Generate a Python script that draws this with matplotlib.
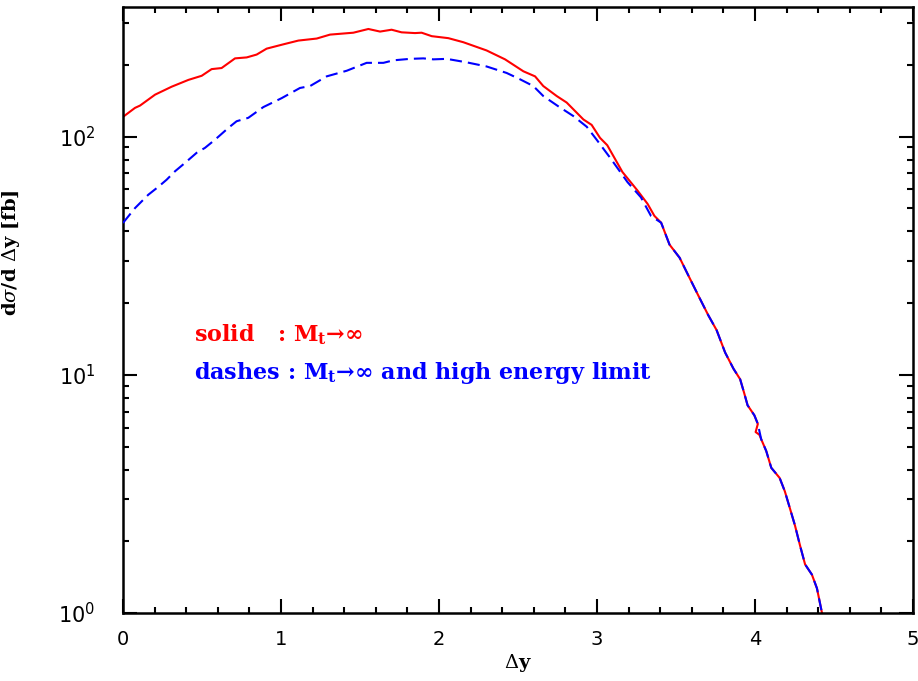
import matplotlib
matplotlib.use("Agg")
import matplotlib.pyplot as plt
from matplotlib.ticker import LogLocator, MultipleLocator, NullFormatter

# ---- data ----
red_x = [0.0, 0.076, 0.108, 0.203, 0.308, 0.414, 0.498, 0.561, 0.624, 0.709,
         0.783, 0.846, 0.909, 1.015, 1.110, 1.226, 1.310, 1.458, 1.553, 1.627,
         1.700, 1.763, 1.848, 1.890, 1.954, 2.059, 2.154, 2.301, 2.418, 2.534,
         2.608, 2.660, 2.745, 2.808, 2.914, 2.966, 3.019, 3.065, 3.161, 3.256,
         3.320, 3.363, 3.406, 3.459, 3.523, 3.576, 3.640, 3.704, 3.757, 3.811,
         3.864, 3.906, 3.932, 3.953, 3.996, 4.018, 4.004, 4.028, 4.039, 4.071,
         4.103, 4.156, 4.189, 4.221, 4.253, 4.285, 4.317, 4.360, 4.392, 4.424,
         4.430]
red_y = [121, 132, 135, 150, 162, 173, 180, 192, 194, 213,
         215, 221, 234, 244, 253, 258, 268, 273, 283, 276,
         281, 274, 272, 273, 264, 259, 249, 230, 211, 188,
         179, 163, 148, 139, 118, 112, 98.8, 92, 71, 59.4,
         52.2, 46.5, 43.5, 35.2, 31.0, 26.3, 21.6, 17.8, 15.4, 12.4,
         10.6, 9.58, 8.36, 7.45, 6.76, 6.22, 5.75, 5.6, 5.37, 4.79,
         4.07, 3.69, 3.24, 2.75, 2.33, 1.92, 1.60, 1.45, 1.27, 1.0,
         0.95]

blue_x = [0.0, 0.076, 0.160, 0.223, 0.276, 0.329, 0.392, 0.466, 0.519, 0.582,
          0.667, 0.719, 0.793, 0.888, 1.004, 1.120, 1.184, 1.289, 1.416, 1.542,
          1.648, 1.711, 1.816, 1.901, 1.964, 2.049, 2.175, 2.301, 2.428, 2.513,
          2.597, 2.660, 2.755, 2.850, 2.935, 2.998, 3.086, 3.193, 3.278, 3.342,
          3.406, 3.459, 3.523, 3.576, 3.640, 3.704, 3.757, 3.811, 3.864, 3.906,
          3.932, 3.953, 3.996, 4.018, 4.039, 4.071, 4.103, 4.156, 4.189, 4.221,
          4.253, 4.285, 4.317, 4.360, 4.392, 4.424, 4.430]
blue_y = [43.4, 50.1, 57.0, 61.5, 65.9, 71.5, 77.5, 85.5, 89.7, 97,
          108.8, 116, 119.9, 133, 145, 160, 163, 179, 189, 204,
          204, 209, 212, 213, 211, 212, 205, 197, 185, 174,
          163, 148, 134, 122, 110, 97, 81, 64.4, 55.6, 46.4,
          43.5, 35.2, 31.0, 26.3, 21.6, 17.8, 15.4, 12.4, 10.6, 9.58,
          8.36, 7.45, 6.76, 6.22, 5.37, 4.79, 4.07, 3.69, 3.24, 2.75,
          2.33, 1.92, 1.60, 1.45, 1.27, 1.0, 0.95]

x_ticks = [0, 1, 2, 3, 4, 5]
label_solid = "solid   : M$_\\mathbf{t}$→∞"
label_dash = "dashes : M$_\\mathbf{t}$→∞ and high energy limit"

# ---- figure ----
plt.rcParams['mathtext.fontset'] = 'dejavuserif'
fig = plt.figure(figsize=(9.18, 6.81), dpi=100)
ax = fig.add_axes([123/918, 1 - 613/681, 790/918, 606/681])

ax.plot(red_x, red_y, color='#ff0000', lw=1.5, solid_joinstyle='round', zorder=2)
ln, = ax.plot(blue_x, blue_y, color='#0000ff', lw=1.5, zorder=3)
ln.set_dashes((5.8, 2.9))

ax.set_yscale('log')
ax.set_xlim(0, 5)
ax.set_ylim(1, 350)

ax.set_xticks(x_ticks)
ax.xaxis.set_minor_locator(MultipleLocator(0.2))
ax.yaxis.set_major_locator(LogLocator(base=10, numticks=10))
ax.yaxis.set_minor_locator(LogLocator(base=10, subs=range(2, 10), numticks=20))
ax.yaxis.set_minor_formatter(NullFormatter())

ax.tick_params(which='both', direction='in', top=True, right=True, width=1.5,
               colors='black')
ax.tick_params(which='major', length=10, labelsize=14)
ax.tick_params(axis='y', which='major', labelsize=15, pad=20)
ax.tick_params(axis='x', which='major', pad=12)
ax.tick_params(which='minor', length=4.5)
for s in ax.spines.values():
    s.set_linewidth(1.8)

ax.set_xlabel(r"$\Delta$y", fontsize=14, family='DejaVu Serif', fontweight='bold')
ax.set_ylabel(r"d$\sigma$/d $\Delta$y [fb]", fontsize=14, family='DejaVu Serif',
              fontweight='bold')
ax.yaxis.set_label_coords(-0.128, 0.594)
ax.xaxis.set_label_coords(0.5, -0.065)

ax.text(0.09, 0.460, label_solid, transform=ax.transAxes, color='#ff0000',
        fontsize=16, family='DejaVu Serif', fontweight='bold', va='center')
ax.text(0.09, 0.396, label_dash, transform=ax.transAxes, color='#0000ff',
        fontsize=16, family='DejaVu Serif', fontweight='bold', va='center')

fig.savefig("out.png", dpi=100)
